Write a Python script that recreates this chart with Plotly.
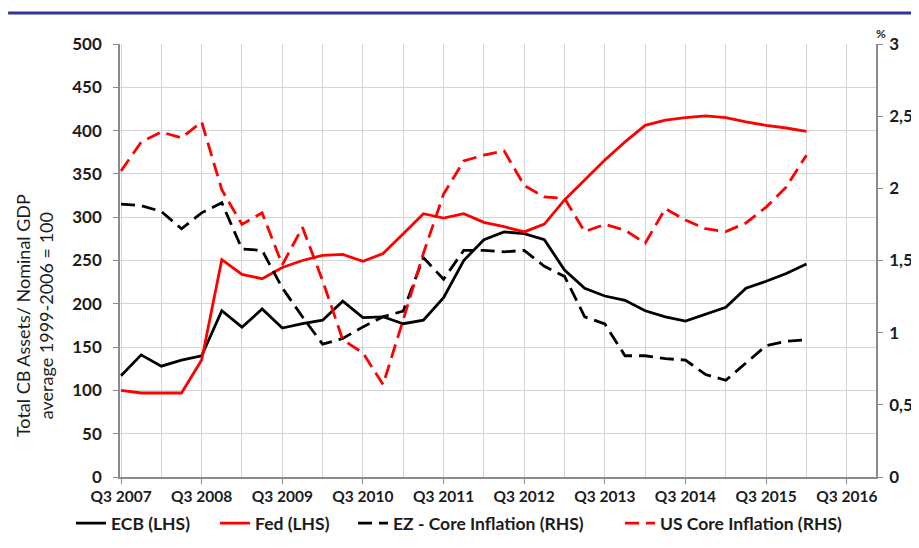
import plotly.graph_objects as go

# quarterly data, Q3 2007 .. Q1 2016
quarters = ["Q3 2007", "Q4 2007", "Q1 2008", "Q2 2008", "Q3 2008", "Q4 2008", "Q1 2009", "Q2 2009",
            "Q3 2009", "Q4 2009", "Q1 2010", "Q2 2010", "Q3 2010", "Q4 2010", "Q1 2011", "Q2 2011",
            "Q3 2011", "Q4 2011", "Q1 2012", "Q2 2012", "Q3 2012", "Q4 2012", "Q1 2013", "Q2 2013",
            "Q3 2013", "Q4 2013", "Q1 2014", "Q2 2014", "Q3 2014", "Q4 2014", "Q1 2015", "Q2 2015",
            "Q3 2015", "Q4 2015", "Q1 2016"]
ecb = [117, 141, 128, 135, 140, 192, 173, 194, 172, 177, 181, 203, 184, 185, 177, 181, 207, 250,
       274, 283, 281, 274, 239, 218, 209, 204, 192, 185, 180, 188, 196, 218, 226, 235, 246]
fed = [100, 97, 97, 97, 135, 251, 234, 229, 242, 250, 256, 257, 249, 258, 281, 304, 299, 304,
       294, 289, 283, 292, 320, 343, 366, 387, 406, 412, 415, 417, 415, 410, 406, 403, 399]
ez_core = [1.89, 1.88, 1.84, 1.72, 1.83, 1.90, 1.58, 1.57, 1.31, 1.11, 0.92, 0.96, 1.04, 1.11,
           1.15, 1.52, 1.37, 1.57, 1.57, 1.56, 1.57, 1.46, 1.39, 1.11, 1.06, 0.84, 0.84, 0.82,
           0.81, 0.71, 0.67, 0.79, 0.91, 0.94, 0.95]
us_core = [2.12, 2.32, 2.39, 2.35, 2.46, 1.99, 1.75, 1.83, 1.47, 1.73, 1.36, 0.95, 0.86, 0.64,
           1.09, 1.55, 1.96, 2.19, 2.23, 2.26, 2.02, 1.94, 1.93, 1.70, 1.75, 1.71, 1.62, 1.86,
           1.78, 1.72, 1.70, 1.76, 1.87, 2.01, 2.23]
x_tick_labels = ["Q3 2007", "Q3 2008", "Q3 2009", "Q3 2010", "Q3 2011", "Q3 2012",
                 "Q3 2013", "Q3 2014", "Q3 2015", "Q3 2016"]
right_tick_vals = [0, 0.5, 1, 1.5, 2, 2.5, 3]
right_tick_text = ["0", "0,5", "1", "1,5", "2", "2,5", "3"]

x = list(range(len(quarters)))
tickvals = [4 * k for k in range(len(x_tick_labels))]

FONT = "Lato"
TXT = "#1c1c1c"
GRID = "#d4d4d4"
AX = "#8a8a8a"
DASH = "14px,7px"

fig = go.Figure()
fig.add_trace(go.Scatter(x=x, y=ecb, name="ECB (LHS)", mode="lines", legend="legend",
                         line=dict(color="black", width=2.8), yaxis="y"))
fig.add_trace(go.Scatter(x=x, y=fed, name="Fed (LHS)", mode="lines", legend="legend2",
                         line=dict(color="#ff0000", width=2.8), yaxis="y"))
fig.add_trace(go.Scatter(x=x, y=ez_core, name="EZ - Core Inflation (RHS)", mode="lines",
                         legend="legend3",
                         line=dict(color="black", width=2.8, dash=DASH), yaxis="y2"))
fig.add_trace(go.Scatter(x=x, y=us_core, name="US Core Inflation (RHS)", mode="lines",
                         legend="legend4",
                         line=dict(color="#ff0000", width=2.8, dash=DASH), yaxis="y2"))

LEG_Y = -0.107
leg_common = dict(orientation="h", xanchor="left", y=LEG_Y, yanchor="middle",
                  font=dict(family=FONT, size=17.5, weight="bold", color=TXT), itemwidth=30,
                  bgcolor="rgba(0,0,0,0)")

fig.update_layout(
    width=911, height=540,
    margin=dict(l=112, r=43, t=36, b=71, autoexpand=False),
    plot_bgcolor="white", paper_bgcolor="white",
    font=dict(family=FONT, color=TXT),
    showlegend=True,
    legend=dict(x=-0.0648, **leg_common),
    legend2=dict(x=0.1257, **leg_common),
    legend3=dict(x=0.3082, **leg_common),
    legend4=dict(x=0.6614, **leg_common),
    xaxis=dict(range=[-0.05, 37.45], tickmode="array", tickvals=tickvals, ticktext=x_tick_labels,
               showgrid=True, gridcolor=GRID, gridwidth=1,
               minor=dict(dtick=2, tick0=0, showgrid=True, gridcolor=GRID, gridwidth=1, ticks=""),
               showline=True, linecolor=AX, linewidth=1.5, ticks="outside", ticklen=5,
               tickcolor=AX, tickfont=dict(family=FONT, size=15.5, weight="bold", color=TXT),
               ticklabelstandoff=0, zeroline=False),
    yaxis=dict(range=[0, 500], dtick=50, showgrid=True, gridcolor=GRID, gridwidth=1,
               showline=True, linecolor=AX, linewidth=1.5, ticks="outside", ticklen=5,
               tickcolor=AX, tickfont=dict(family=FONT, size=17, weight="bold", color=TXT),
               ticklabelstandoff=8, zeroline=False),
    yaxis2=dict(range=[0, 3], overlaying="y", side="right", tickmode="array",
                tickvals=right_tick_vals, ticktext=right_tick_text, showgrid=False,
                showline=True, linecolor=AX, linewidth=1.5, ticks="outside", ticklen=5,
                tickcolor=AX, tickfont=dict(family=FONT, size=17, weight="bold", color=TXT),
                ticklabelstandoff=3, zeroline=False),
)

fig.add_shape(type="line", xref="paper", yref="paper", x0=-0.148, x1=1.06,
              y0=1.0716, y1=1.0716, line=dict(color="#30349a", width=3))

fig.add_annotation(xref="paper", yref="paper", x=-0.113, y=0.373, textangle=-90,
                   text="Total CB Assets/ Nominal GDP<br>average 1999-2006 = 100",
                   showarrow=False, xanchor="center", yanchor="middle",
                   font=dict(family=FONT, size=18, color=TXT))
fig.add_annotation(xref="paper", yref="paper", x=1.0066, y=1.0254, text="%",
                   showarrow=False, xanchor="center", yanchor="middle",
                   font=dict(family=FONT, size=12, weight="bold", color=TXT))

fig.write_html("out.html")
